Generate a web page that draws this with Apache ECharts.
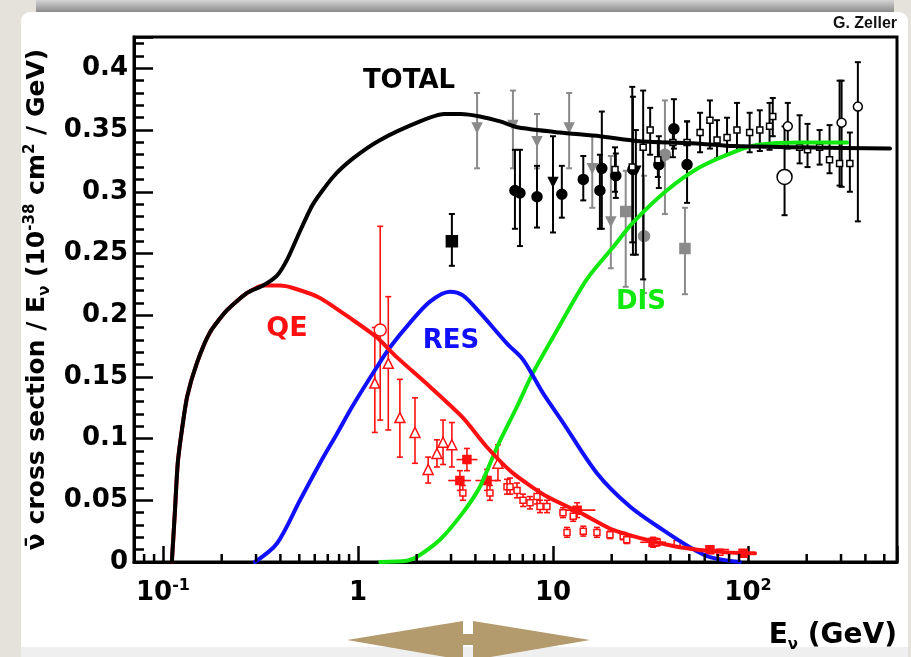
<!DOCTYPE html>
<html>
<head>
<meta charset="utf-8">
<script src="https://cdn.jsdelivr.net/npm/echarts@6/dist/echarts.min.js"></script>
<style>
  html, body { margin: 0; padding: 0; background: #e5e2db; }
  #chart { width: 911px; height: 657px; }
</style>
</head>
<body>
<div id="chart"></div>
<script>
// ---------- axis ranges and ticks ----------
const energyMin = 0.071;
const energyMax = 581;
const sigmaMax = 0.4254;
const energyMajorTicks = [0.1, 1, 10, 100];
const energyMinorTicks = [0.08, 0.09, 0.2, 0.3, 0.4, 0.5, 0.6, 0.7, 0.8, 0.9,
  2, 3, 4, 5, 6, 7, 8, 9, 20, 30, 40, 50, 60, 70, 80, 90, 200, 300, 400, 500];
const sigmaMajorTicks = [0, 0.05, 0.1, 0.15, 0.2, 0.25, 0.3, 0.35, 0.4];

// ---------- predictions: [E (GeV), sigma/E] ----------
const totalCurve = [
  [0.111, 0], [0.113, 0.02], [0.115, 0.040], [0.119, 0.080], [0.125, 0.107], [0.133, 0.134],
  [0.149, 0.161], [0.174, 0.186], [0.213, 0.204], [0.270, 0.218], [0.326, 0.224], [0.384, 0.232],
  [0.433, 0.245], [0.504, 0.268], [0.588, 0.290], [0.745, 0.312], [0.943, 0.327], [1.30, 0.342],
  [2.08, 0.357], [2.76, 0.363], [3.37, 0.363], [4.22, 0.361], [5.35, 0.357], [6.68, 0.352],
  [10.8, 0.348], [17.4, 0.345], [27.9, 0.341], [56.8, 0.339], [83.9, 0.337], [185, 0.336], [535, 0.335]
];
const qeCurve = [
  [0.111, 0], [0.113, 0.02], [0.115, 0.040], [0.119, 0.080], [0.125, 0.107], [0.133, 0.134],
  [0.149, 0.161], [0.174, 0.186], [0.213, 0.204], [0.270, 0.218], [0.326, 0.224], [0.398, 0.224],
  [0.464, 0.222], [0.638, 0.214], [0.943, 0.196], [1.25, 0.182], [1.58, 0.166], [2.34, 0.142],
  [3.45, 0.117], [4.59, 0.093], [6.23, 0.072], [9.31, 0.053], [13.8, 0.040], [20.3, 0.026],
  [30.2, 0.018], [44.6, 0.012], [74.4, 0.008], [108.6, 0.007]
];
const resCurve = [
  [0.296, 0], [0.384, 0.015], [0.504, 0.050], [0.638, 0.080], [0.780, 0.104], [0.943, 0.127],
  [1.25, 0.158], [1.46, 0.174], [1.85, 0.194], [2.34, 0.211], [2.96, 0.219], [3.45, 0.216],
  [4.22, 0.202], [5.81, 0.177], [7.02, 0.164], [8.87, 0.137], [11.25, 0.113], [16.8, 0.072],
  [24.8, 0.045], [36.6, 0.026], [50.3, 0.012], [63.8, 0.004], [90.9, 0]
];
const disCurve = [
  [1.30, 0], [1.78, 0.001], [2.0, 0.004], [2.63, 0.018], [3.45, 0.040], [4.22, 0.061],
  [5.16, 0.093], [6.54, 0.126], [7.88, 0.153], [10.5, 0.188], [14.9, 0.229], [20.3, 0.255],
  [25.7, 0.275], [38.3, 0.301], [56.8, 0.320], [83.9, 0.332], [111, 0.338], [184, 0.340], [322, 0.340]
];

// ---------- QE measurements: [E, value, low, high (, E low, E high)] ----------
const qeTriangles = [
  [1.22, 0.145, 0.105, 0.190], [1.43, 0.161, 0.107, 0.215], [1.64, 0.117, 0.085, 0.148],
  [1.96, 0.105, 0.080, 0.133], [2.29, 0.075, 0.064, 0.085], [2.54, 0.088, 0.077, 0.099],
  [2.73, 0.097, 0.079, 0.115], [3.03, 0.095, 0.077, 0.113], [5.22, 0.080, 0.066, 0.095]
];
const qeCircles = [[1.30, 0.188, 0.115, 0.272]];
const qeSquares = [
  [3.33, 0.066, 0.058, 0.074, 2.9, 3.8], [3.62, 0.083, 0.074, 0.092, 3.2, 4.1],
  [4.59, 0.066, 0.058, 0.075, 4.0, 5.2], [13.3, 0.042, 0.036, 0.048, 11.0, 16.5],
  [32.6, 0.016, 0.012, 0.020, 28, 38], [63.8, 0.010, 0.007, 0.013, 50, 80],
  [94.3, 0.007, 0.005, 0.009, 80, 108]
];
const qeSmall = [
  [3.45, 0.056, 0.050, 0.062], [4.75, 0.056, 0.050, 0.062], [5.81, 0.061, 0.055, 0.067],
  [6.02, 0.061, 0.055, 0.068], [6.54, 0.058, 0.052, 0.064], [7.02, 0.050, 0.045, 0.055],
  [7.62, 0.048, 0.043, 0.053], [8.28, 0.053, 0.047, 0.059], [8.58, 0.045, 0.040, 0.050],
  [9.31, 0.045, 0.040, 0.050], [11.25, 0.040, 0.036, 0.044], [11.8, 0.024, 0.020, 0.028],
  [12.7, 0.037, 0.033, 0.041], [14.3, 0.025, 0.021, 0.029], [16.8, 0.024, 0.020, 0.028],
  [19.6, 0.022, 0.019, 0.025], [22.9, 0.021, 0.018, 0.024], [23.9, 0.018, 0.015, 0.021],
  [34.2, 0.016, 0.013, 0.019], [43.3, 0.015, 0.012, 0.018], [71.8, 0.008, 0.006, 0.010]
];

// ---------- inclusive measurements: [E, value, low, high] ----------
const ccBlackSquares = [[3.03, 0.260, 0.240, 0.282]];
const ccBlackCircles = [
  [6.38, 0.301, 0.270, 0.334], [6.77, 0.299, 0.256, 0.334], [8.28, 0.296, 0.271, 0.321],
  [11.1, 0.298, 0.279, 0.321], [14.3, 0.310, 0.293, 0.329], [17.4, 0.301, 0.270, 0.330],
  [17.8, 0.319, 0.270, 0.365], [21.0, 0.313, 0.295, 0.331], [25.7, 0.318, 0.249, 0.377],
  [34.9, 0.322, 0.303, 0.345], [41.7, 0.351, 0.335, 0.375], [48.7, 0.322, 0.291, 0.357]
];
const ccBlackTriangles = [[10.0, 0.308, 0.267, 0.345], [26.6, 0.317, 0.249, 0.350]];
const ccGrayTriangles = [
  [4.08, 0.352, 0.319, 0.380], [6.23, 0.354, 0.319, 0.382], [8.28, 0.341, 0.319, 0.363],
  [12.1, 0.352, 0.319, 0.380], [15.9, 0.319, 0.287, 0.346], [19.8, 0.276, 0.238, 0.329]
];
const ccGraySquares = [[23.6, 0.284, 0.223, 0.317], [47.5, 0.254, 0.217, 0.287]];
const ccGrayCircles = [[29.3, 0.264, 0.218, 0.313], [37.5, 0.330, 0.282, 0.374]];
const ccOpenCircles = [[160, 0.353, 0.335, 0.372], [302, 0.356, 0.304, 0.390], [366, 0.369, 0.276, 0.405]];
const ccLargeOpenCircles = [[154, 0.312, 0.281, 0.353]];
const ccSmall = [
  [20.8, 0.318, 0.300, 0.336], [25.5, 0.320, 0.259, 0.385], [29.0, 0.336, 0.229, 0.382],
  [31.5, 0.350, 0.330, 0.368], [34.5, 0.326, 0.312, 0.341], [41.2, 0.340, 0.328, 0.352],
  [48.7, 0.340, 0.325, 0.357], [56.8, 0.348, 0.332, 0.364], [63.8, 0.358, 0.335, 0.374],
  [69.4, 0.342, 0.327, 0.358], [78.1, 0.344, 0.330, 0.360], [87.8, 0.350, 0.333, 0.372],
  [102, 0.348, 0.332, 0.364], [115, 0.350, 0.333, 0.366], [129, 0.353, 0.334, 0.372],
  [134, 0.361, 0.345, 0.376], [184, 0.336, 0.323, 0.362], [202, 0.334, 0.320, 0.355],
  [233, 0.336, 0.322, 0.350], [262, 0.326, 0.315, 0.354], [295, 0.323, 0.305, 0.390],
  [333, 0.323, 0.300, 0.348]
];

// ---------- styling ----------
const FONT = 'DejaVu Sans';
const RED = '#ff1010', BLUE = '#1010ff', GREEN = '#10e810', GRAY = '#8a8a8a';

// short inward ticks at the 2..9 positions of each decade
function minorEnergyTicks(values, length) {
  return {
    type: 'custom',
    xAxisIndex: 0, yAxisIndex: 0,
    z: 20,
    dimensions: ['E', 'v'],
    encode: { x: 0, y: 1 },
    data: values.map(v => [v, 0]),
    renderItem: function (params, api) {
      const p = api.coord([api.value(0), api.value(1)]);
      return { type: 'line', shape: { x1: p[0], y1: p[1], x2: p[0], y2: p[1] - length },
        style: { stroke: '#000', lineWidth: 2.5 } };
    }
  };
}

function errorBars(data, color, width, z) {
  return {
    type: 'custom',
    xAxisIndex: 0, yAxisIndex: 0,
    silent: true, z: z,
    dimensions: ['E', 'v', 'lo', 'hi', 'elo', 'ehi'],
    encode: { x: 0, y: 1 },
    data: data,
    renderItem: function (params, api) {
      const e = api.value(0);
      const a = api.coord([e, api.value(2)]);
      const b = api.coord([e, api.value(3)]);
      const cap = 3;
      const st = { stroke: color, lineWidth: width };
      const kids = [
        { type: 'line', shape: { x1: a[0], y1: a[1], x2: b[0], y2: b[1] }, style: st },
        { type: 'line', shape: { x1: a[0] - cap, y1: a[1], x2: a[0] + cap, y2: a[1] }, style: st },
        { type: 'line', shape: { x1: b[0] - cap, y1: b[1], x2: b[0] + cap, y2: b[1] }, style: st }
      ];
      const el = api.value(4), eh = api.value(5);
      if (isFinite(el) && isFinite(eh) && el > 0 && eh > 0) {
        const v = api.value(1);
        const l = api.coord([el, v]), r = api.coord([eh, v]);
        kids.push({ type: 'line', shape: { x1: l[0], y1: l[1], x2: r[0], y2: r[1] }, style: st });
      }
      return { type: 'group', children: kids };
    }
  };
}

function markers(data, symbol, size, fill, stroke, z, rotate) {
  return {
    type: 'scatter',
    xAxisIndex: 0, yAxisIndex: 0,
    silent: true, z: z,
    symbol: symbol, symbolSize: size, symbolRotate: rotate || 0,
    data: data.map(d => [d[0], d[1]]),
    itemStyle: { color: fill, borderColor: stroke, borderWidth: 1.5, opacity: 1 }
  };
}

function curve(data, color, z, smooth) {
  return {
    type: 'line',
    xAxisIndex: 0, yAxisIndex: 0,
    silent: true, z: z,
    data: data,
    showSymbol: false,
    smooth: smooth,
    lineStyle: { color: color, width: 4, cap: 'round', join: 'round' },
    emphasis: { disabled: true }
  };
}

const supStyle = { fontFamily: FONT, fontWeight: 'bold', fontSize: 15, color: '#000', verticalAlign: 'top' };
const subStyle = { fontFamily: FONT, fontWeight: 'bold', fontSize: 15, color: '#000', verticalAlign: 'bottom' };

const chart = echarts.init(document.getElementById('chart'), null, { renderer: 'canvas' });

chart.setOption({
  backgroundColor: '#e5e2db',
  animation: false,
  grid: {
    left: 134, right: 14, top: 37, bottom: 95,
    show: true, borderColor: '#000', borderWidth: 3, backgroundColor: 'transparent'
  },
  graphic: [
    // page frame
    { type: 'rect', z: -10, shape: { x: 36, y: 0, width: 858, height: 13 },
      style: { fill: new echarts.graphic.LinearGradient(0, 0, 0, 1, [
        { offset: 0, color: '#d4d4d4' }, { offset: 1, color: '#858585' }]) } },
    { type: 'rect', z: -9, shape: { x: 21, y: 12, width: 887, height: 660, r: 9 },
      style: { fill: '#ffffff' } },
    { type: 'rect', z: -8, shape: { x: 21, y: 647, width: 887, height: 10 },
      style: { fill: '#efefef' } },
    // double arrow below the axis
    { type: 'polygon', z: -5, shape: { points: [[347, 640], [463, 621], [463, 660]] },
      style: { fill: '#b49b6d' } },
    { type: 'polygon', z: -5, shape: { points: [[590, 640], [473, 621], [473, 660]] },
      style: { fill: '#b49b6d' } },
    { type: 'rect', z: -5, shape: { x: 462, y: 634, width: 12, height: 11 },
      style: { fill: '#b49b6d' } },
    // texts
    { type: 'text', z: 50, x: 897, y: 24,
      style: { text: 'G. Zeller', fontFamily: 'Liberation Sans', fontWeight: 'bold', fontSize: 16,
        fill: '#111', align: 'right', verticalAlign: 'middle' } },
    { type: 'text', z: 50, x: 409, y: 81,
      style: { text: 'TOTAL', fontFamily: FONT, fontWeight: 'bold', fontSize: 26, fill: '#000',
        align: 'center', verticalAlign: 'middle' } },
    { type: 'text', z: 50, x: 287, y: 329,
      style: { text: 'QE', fontFamily: FONT, fontWeight: 'bold', fontSize: 27, fill: RED,
        align: 'center', verticalAlign: 'middle' } },
    { type: 'text', z: 50, x: 451, y: 341,
      style: { text: 'RES', fontFamily: FONT, fontWeight: 'bold', fontSize: 26, fill: BLUE,
        align: 'center', verticalAlign: 'middle' } },
    { type: 'text', z: 50, x: 641, y: 302,
      style: { text: 'DIS', fontFamily: FONT, fontWeight: 'bold', fontSize: 26, fill: GREEN,
        align: 'center', verticalAlign: 'middle' } },
    { type: 'text', z: 50, x: 897, y: 636,
      style: {
        text: '{t|E}{sub|ν}{t| (GeV)}', align: 'right', verticalAlign: 'middle',
        rich: {
          t: { fontFamily: FONT, fontWeight: 'bold', fontSize: 28, lineHeight: 34, fill: '#000' },
          sub: { fontFamily: FONT, fontWeight: 'bold', fontSize: 15, fill: '#000', verticalAlign: 'bottom' }
        }
      } }
  ],
  xAxis: {
    type: 'log', logBase: 10, min: energyMin, max: energyMax, position: 'bottom',
    axisLine: { show: true, onZero: false, lineStyle: { color: '#000', width: 3 } },
    axisTick: { show: true, inside: true, length: 16, lineStyle: { color: '#000', width: 2.5 } },
    minorTick: { show: false },
    splitLine: { show: false },
    axisLabel: {
      customValues: energyMajorTicks, margin: 16,
      formatter: function (v) {
        const p = Math.round(Math.log10(v));
        if (p === 0) return '{b|1}';
        if (p === 1) return '{b|10}';
        return '{b|10}{s|' + p + '}';
      },
      rich: {
        b: { fontFamily: FONT, fontWeight: 'bold', fontSize: 26, lineHeight: 30, color: '#000' },
        s: { fontFamily: FONT, fontWeight: 'bold', fontSize: 16, color: '#000', verticalAlign: 'top' }
      }
    }
  },
  yAxis: {
    type: 'value', min: 0, max: sigmaMax, interval: 0.05, position: 'left',
    axisLine: { show: true, onZero: false, lineStyle: { color: '#000', width: 3 } },
    axisTick: { show: true, inside: true, length: 19, lineStyle: { color: '#000', width: 2.5 } },
    minorTick: { show: true, splitNumber: 5, length: 10, lineStyle: { color: '#000', width: 2.5 } },
    splitLine: { show: false },
    axisLabel: {
      customValues: sigmaMajorTicks, margin: 6,
      fontFamily: FONT, fontWeight: 'bold', fontSize: 26, color: '#000',
      formatter: v => String(+v.toFixed(2))
    },
    name: '{t|ν\u0304 cross section / E}{sub|ν}{t| (10}{sup|-38}{t| cm}{sup|2}{t| / GeV)}',
    nameLocation: 'middle', nameRotate: 90, nameGap: 80,
    nameTextStyle: {
      rich: {
        t: { fontFamily: FONT, fontWeight: 'bold', fontSize: 25, lineHeight: 30, color: '#000' },
        sup: supStyle,
        sub: subStyle
      }
    }
  },
  series: [
    minorEnergyTicks(energyMinorTicks, 8),
    // inclusive charged-current data
    errorBars(ccGrayTriangles, GRAY, 2, 3),
    errorBars(ccGraySquares, GRAY, 2, 3),
    errorBars(ccGrayCircles, GRAY, 2, 3),
    markers(ccGrayTriangles, 'triangle', 9, GRAY, GRAY, 4, 180),
    markers(ccGraySquares, 'rect', 10, GRAY, GRAY, 4),
    markers(ccGrayCircles, 'circle', 11, GRAY, GRAY, 4),
    errorBars(ccBlackSquares, '#000', 2, 5),
    errorBars(ccBlackCircles, '#000', 2, 5),
    errorBars(ccBlackTriangles, '#000', 2, 5),
    errorBars(ccSmall, '#000', 2, 5),
    errorBars(ccOpenCircles, '#000', 2, 5),
    errorBars(ccLargeOpenCircles, '#000', 2, 5),
    markers(ccBlackSquares, 'rect', 11, '#000', '#000', 6),
    markers(ccBlackCircles, 'circle', 10, '#000', '#000', 6),
    markers(ccBlackTriangles, 'triangle', 9, '#000', '#000', 6, 180),
    markers(ccSmall, 'rect', 6, '#fff', '#000', 6),
    markers(ccOpenCircles, 'circle', 9, '#fff', '#000', 6),
    markers(ccLargeOpenCircles, 'circle', 15, '#fff', '#000', 6),
    // quasi-elastic data
    errorBars(qeTriangles, RED, 1.6, 5),
    errorBars(qeCircles, RED, 1.6, 5),
    errorBars(qeSquares, RED, 1.6, 5),
    errorBars(qeSmall, RED, 1.6, 5),
    markers(qeTriangles, 'triangle', 10, '#fff', RED, 6),
    markers(qeCircles, 'circle', 12, '#fff', RED, 6),
    markers(qeSquares, 'rect', 8, RED, RED, 6),
    markers(qeSmall, 'rect', 6, '#fff', RED, 6),
    // predictions
    curve(disCurve, GREEN, 10, 0.3),
    curve(resCurve, BLUE, 10, 0.3),
    curve(qeCurve, RED, 11, 0.22),
    curve(totalCurve, '#000', 12, 0.22)
  ]
});
</script>
</body>
</html>
